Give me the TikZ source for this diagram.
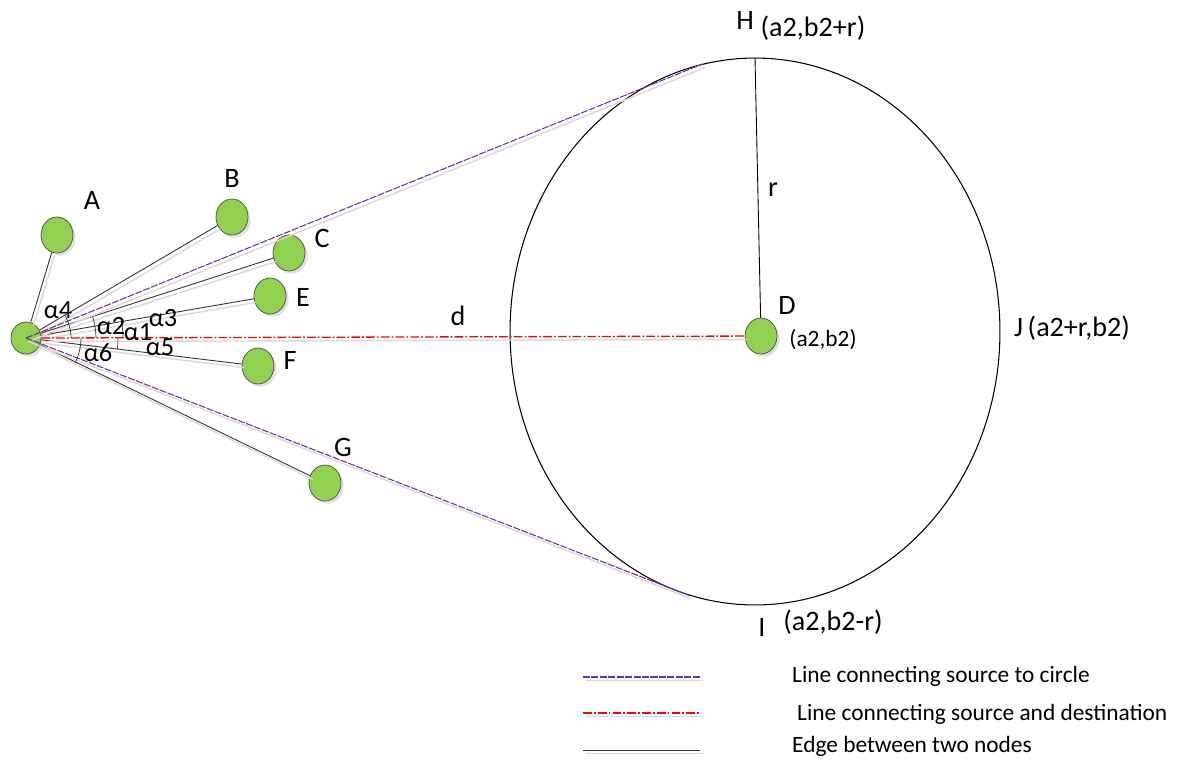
\documentclass[tikz,border=0pt]{standalone}
\usepackage{fontspec}
\setmainfont{Carlito}
\usetikzlibrary{angles,quotes,shapes.geometric,shadows}

\definecolor{nodegreen}{RGB}{146,208,80}
\definecolor{tanviolet}{RGB}{112,48,160}

\tikzset{
  sensor/.style={ellipse, draw=black!70, fill=nodegreen, minimum width=0.64cm, minimum height=0.72cm, inner sep=0pt,
    drop shadow={shadow xshift=1.5pt, shadow yshift=-1.5pt, opacity=0.25}},
  lbl/.style={font=\fontsize{16}{18}\selectfont},
  small/.style={font=\fontsize{13.3}{15}\selectfont},
  alpha/.style={font=\fontsize{15}{17}\selectfont, inner sep=0pt},
  shade line/.style={preaction={draw=black!15, line width=0.8pt, solid, transform canvas={shift={(1.5pt,-2pt)}}}},
  nodeedge/.style={black!80, line width=0.5pt, shade line},
  tangent/.style={tanviolet, line width=0.6pt, dash pattern=on 4pt off 0.8pt, shade line},
  direct/.style={red, line width=0.75pt, dash pattern=on 5pt off 1.2pt on 1pt off 1.2pt, shade line},
  arcmark/.style={draw, black!80, line width=0.4pt}
}

\begin{document}
\begin{tikzpicture}[x=0.02cm, y=-0.02cm]
  \useasboundingbox (0,0) rectangle (1189,762);

  % destination region
  \node[ellipse, draw, line width=0.6pt, minimum width=9.8cm, minimum height=10.94cm, inner sep=0pt] (circ) at (755,331.5) {};
  \coordinate (h) at (circ.north);
  \coordinate (ttop) at (circ.101.7);
  \coordinate (tbot) at (circ.256);

  % nodes
  \node[sensor, minimum width=0.6cm, minimum height=0.64cm] (s) at (26,338) {};
  \node[sensor] (a) at (57,235) {};
  \node[sensor] (b) at (232,217) {};
  \node[sensor] (c) at (289,253) {};
  \node[sensor] (e) at (270,296) {};
  \node[sensor] (f) at (258,366) {};
  \node[sensor] (g) at (325,483) {};
  \node[sensor] (d) at (761,336) {};

  % edges
  \draw[nodeedge] (s) -- (a);
  \draw[nodeedge] (s) -- (b);
  \draw[nodeedge] (s) -- (c);
  \draw[nodeedge] (s) -- (e);
  \draw[nodeedge] (s) -- (f);
  \draw[nodeedge] (s) -- (g);
  \draw[tangent] (s.center) -- (ttop);
  \draw[tangent] (s.center) -- (tbot);
  \draw[direct] (s.east) -- (d);
  \draw[line width=0.5pt] (h) -- (d);

  % angles at the source
  \path pic[arcmark, angle radius=0.9cm] {angle=d--s--b}
        pic[arcmark, angle radius=1.4cm] {angle=d--s--c}
        pic[arcmark, angle radius=1.94cm] {angle=d--s--e}
        pic[arcmark, angle radius=1.84cm] {angle=f--s--d}
        pic[arcmark, angle radius=1.1cm] {angle=g--s--d};

  \node[alpha] (al4) at (58,310) {α4};
  \node[alpha] (al2) at (111,326) {α2};
  \node[alpha] (al1) at (138,332) {α1};
  \node[alpha] (al3) at (163,318) {α3};
  \node[alpha] (al5) at (160,347) {α5};
  \node[alpha] (al6) at (98,353) {α6};

  % labels
  \node[lbl] at (92,200) {A};
  \node[lbl] at (232,178) {B};
  \node[lbl] at (322,238) {C};
  \node[lbl] at (303,297) {E};
  \node[lbl] at (290,360) {F};
  \node[lbl] at (343,447) {G};
  \node[lbl] at (787,305) {D};
  \node[small] at (823,340) {(a2,b2)};
  \node[lbl] at (458,316) {d};
  \node[lbl] at (773,190) {r};
  \node[lbl] at (745,20) {H};
  \node[lbl] at (813,28) {(a2,b2+r)};
  \node[lbl] at (1072,328) {J\,(a2+r,b2)};
  \node[lbl] at (762,627) {I};
  \node[lbl] at (833,622) {(a2,b2-r)};

  % legend
  \coordinate (k1a) at (583,677); \coordinate (k1b) at (700,677);
  \coordinate (k2a) at (583,713); \coordinate (k2b) at (700,713);
  \coordinate (k3a) at (583,750); \coordinate (k3b) at (700,750);
  \draw[tangent] (k1a) -- (k1b);
  \draw[direct] (k2a) -- (k2b);
  \draw[nodeedge] (k3a) -- (k3b);
  \node[small, anchor=west] at (786,676) {Line connecting source to circle};
  \node[small, anchor=west] at (791,714) {Line connecting source and destination};
  \node[small, anchor=west] at (786,746) {Edge between two nodes};
\end{tikzpicture}
\end{document}
